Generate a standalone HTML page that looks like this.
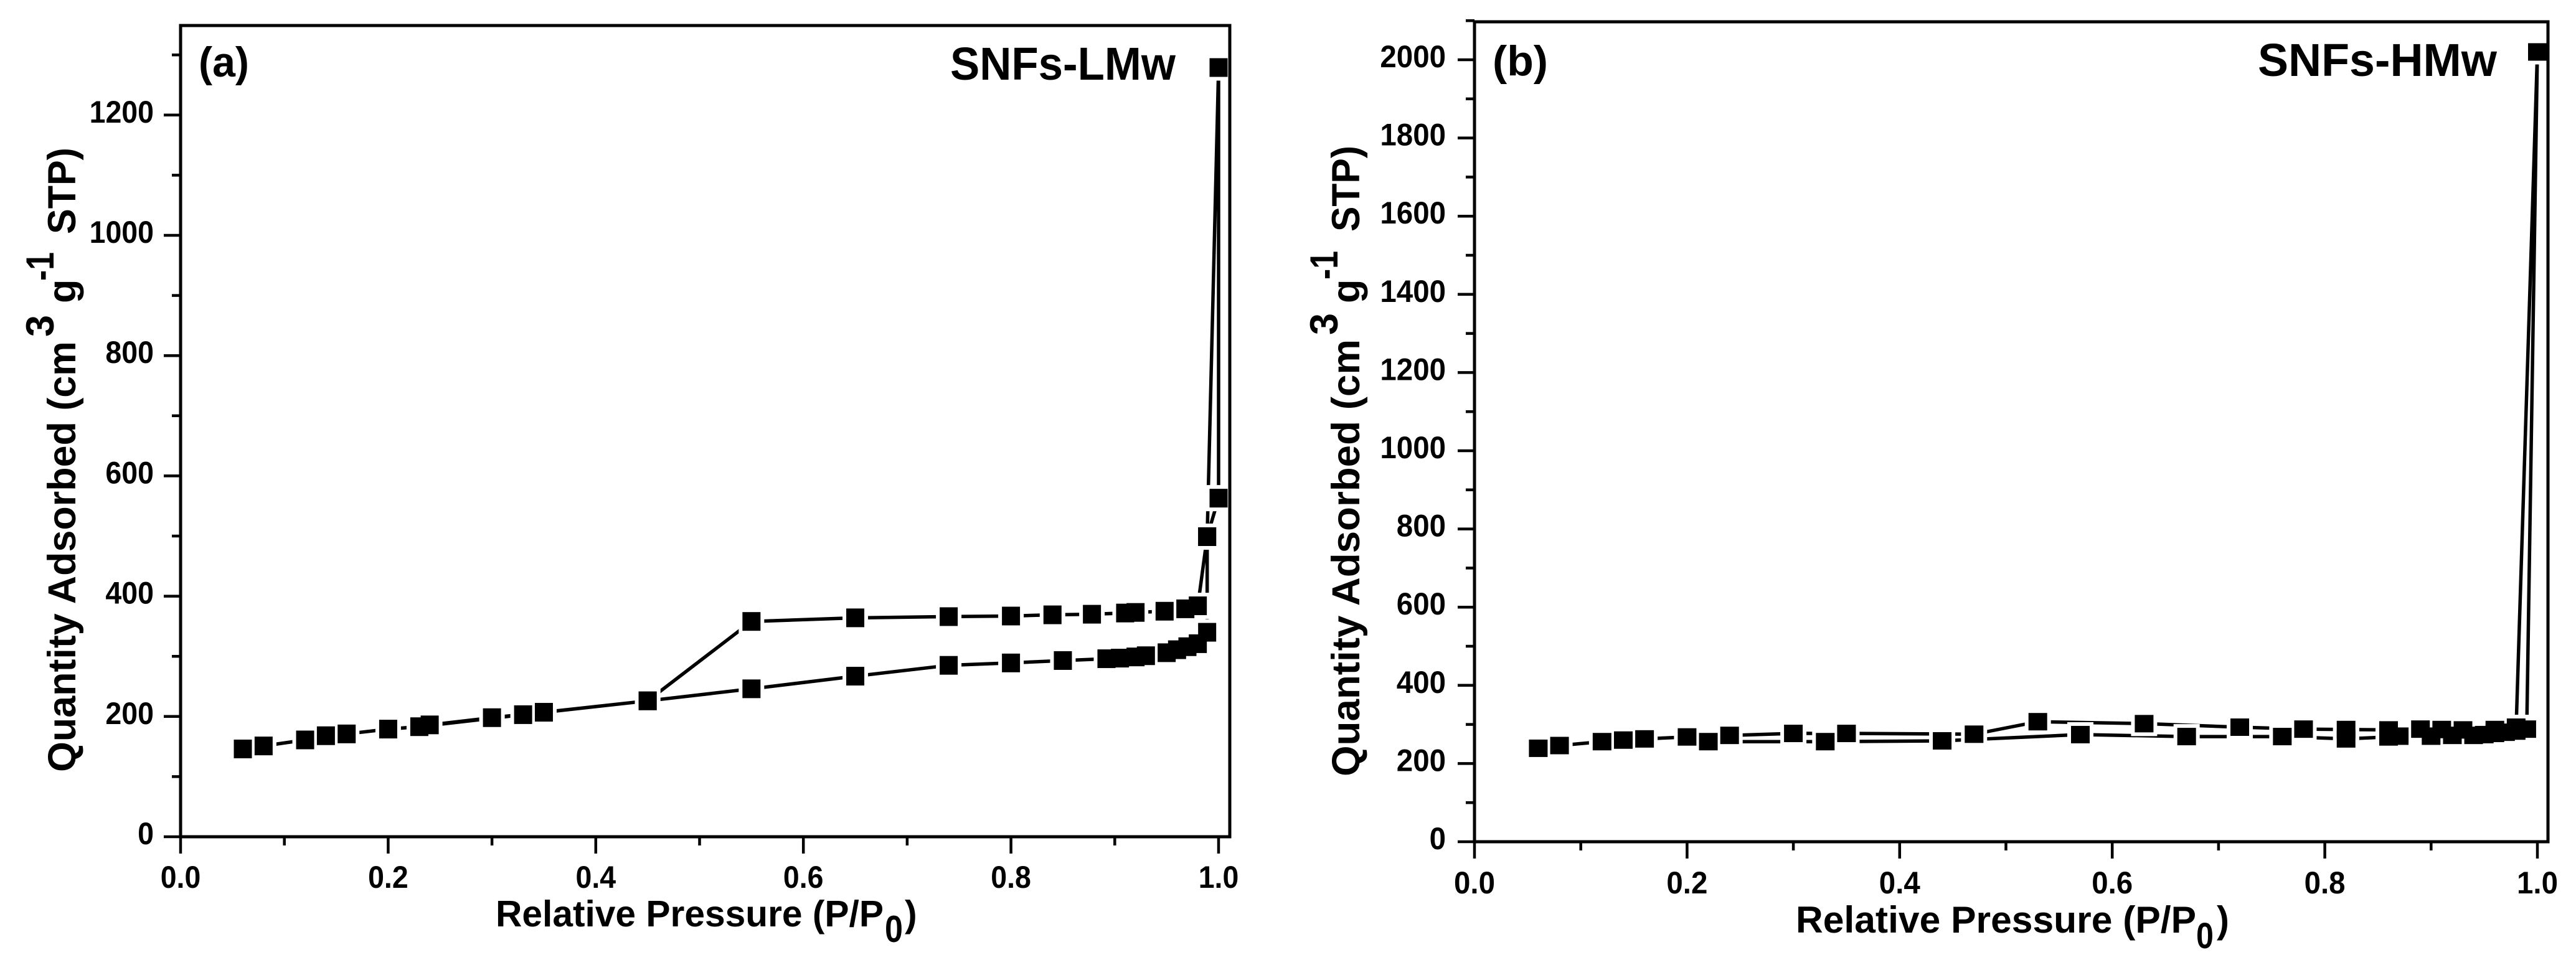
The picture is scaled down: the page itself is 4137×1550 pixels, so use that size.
<!DOCTYPE html>
<html lang="en">
<head>
<meta charset="utf-8">
<title>Nitrogen sorption isotherms of SNFs-LMw and SNFs-HMw</title>
<style>
html,body{margin:0;padding:0;background:#fff;}
body{width:4137px;height:1550px;overflow:hidden;}
svg{display:block;}
text{font-family:"Liberation Sans",Arial,sans-serif;font-weight:bold;fill:#000;}
</style>
</head>
<body>
<svg id="figure" xmlns="http://www.w3.org/2000/svg" width="4137" height="1550" viewBox="0 0 4137 1550">
  <rect x="0" y="0" width="4137" height="1550" fill="#fff"/>
  <g id="panel-a">
    <g id="a-plot"></g>
    <text x="319" y="123" font-size="68" textLength="81" lengthAdjust="spacingAndGlyphs">(a)</text>
    <text x="1526" y="128" font-size="74" textLength="362" lengthAdjust="spacingAndGlyphs">SNFs-LMw</text>
    <text x="796" y="1488" font-size="59" textLength="623" lengthAdjust="spacingAndGlyphs">Relative Pressure (P/P</text>
    <text x="1421" y="1513" font-size="60" textLength="29" lengthAdjust="spacingAndGlyphs">0</text>
    <text x="1453" y="1488" font-size="59">)</text>
    <g>
      <text transform="translate(121,1240) rotate(-90)" font-size="63" textLength="692" lengthAdjust="spacingAndGlyphs">Quantity Adsorbed (cm</text>
      <text transform="translate(86,541) rotate(-90)" font-size="63">3</text>
      <text transform="translate(121,487) rotate(-90)" font-size="63">g</text>
      <text transform="translate(86,451) rotate(-90)" font-size="63" textLength="46" lengthAdjust="spacingAndGlyphs">-1</text>
      <text transform="translate(121,376) rotate(-90)" font-size="63" textLength="139" lengthAdjust="spacingAndGlyphs">STP)</text>
    </g>
  </g>
  <g id="panel-b">
    <g id="b-plot"></g>
    <text x="2397" y="121" font-size="68" textLength="89" lengthAdjust="spacingAndGlyphs">(b)</text>
    <text x="3626" y="122" font-size="74" textLength="384" lengthAdjust="spacingAndGlyphs">SNFs-HMw</text>
    <text x="2884" y="1498" font-size="60" textLength="643" lengthAdjust="spacingAndGlyphs">Relative Pressure (P/P</text>
    <text x="3527" y="1523" font-size="58" textLength="28" lengthAdjust="spacingAndGlyphs">0</text>
    <text x="3560" y="1498" font-size="60">)</text>
    <g>
      <text transform="translate(2183,1247) rotate(-90)" font-size="63" textLength="702" lengthAdjust="spacingAndGlyphs">Quantity Adsorbed (cm</text>
      <text transform="translate(2148,538) rotate(-90)" font-size="63">3</text>
      <text transform="translate(2183,487) rotate(-90)" font-size="63">g</text>
      <text transform="translate(2148,449) rotate(-90)" font-size="63" textLength="46" lengthAdjust="spacingAndGlyphs">-1</text>
      <text transform="translate(2183,372) rotate(-90)" font-size="63" textLength="138" lengthAdjust="spacingAndGlyphs">STP)</text>
    </g>
  </g>
</svg>
<script>
// Panel (a) SNFs-LMw: values
var aAdsorptionP = [0.06,0.08,0.12,0.14,0.16,0.20,0.23,0.33,0.45,0.55,0.65,0.74,0.80,0.85,0.892,0.905,0.92,0.93,0.95,0.96,0.97,0.98,0.989,0.989,1.0,1.0];
var aAdsorptionQ = [146,151,161,168,171,179,183,203,226,246,267,285,289,293,296,297,299,301,306,311,316,321,340,499,563,1279];
var aDesorptionP = [1.0,0.989,0.98,0.968,0.948,0.92,0.91,0.878,0.84,0.80,0.74,0.65,0.55,0.45,0.35,0.30,0.24];
var aDesorptionQ = [1279,499,384,379,375,373,372,370,369,367,366,364,358,226,207,198,186];

// Panel (b) SNFs-HMw: values
var bAdsorptionP = [0.06,0.08,0.12,0.14,0.16,0.20,0.22,0.33,0.44,0.57,0.67,0.76,0.82,0.86,0.87,0.90,0.92,0.94,0.95,0.96,0.97,0.98,0.99,1.0];
var bAdsorptionQ = [239,246,256,260,263,268,256,256,258,274,269,269,263,268,270,270,272,272,274,277,280,283,288,2020];
var bDesorptionP = [1.0,0.98,0.96,0.93,0.91,0.89,0.86,0.82,0.78,0.72,0.63,0.53,0.47,0.35,0.30,0.24];
var bDesorptionQ = [2020,293,287,286,287,288,286,287,288,293,302,307,275,277,277,272];

// Tick values and labels
var xMajorTicks = [0,0.2,0.4,0.6,0.8,1.0];
var xMajorLabels = ["0.0","0.2","0.4","0.6","0.8","1.0"];
var xMinorTicks = [0.1,0.3,0.5,0.7,0.9];
var aYMajorTicks = [0,200,400,600,800,1000,1200];
var aYMinorTicks = [100,300,500,700,900,1100,1300];
var bYMajorTicks = [0,200,400,600,800,1000,1200,1400,1600,1800,2000];
var bYMinorTicks = [100,300,500,700,900,1100,1300,1500,1700,1900,2100];

var NS = "http://www.w3.org/2000/svg";

function make(parent, tag, props) {
  var el = document.createElementNS(NS, tag);
  for (var k in props) { el.setAttribute(k, props[k]); }
  parent.appendChild(el);
  return el;
}

// natural width of a bold numeric label, narrowed to the figure's condensed look
function labelWidth(str, font, squeeze) {
  var w = 0;
  for (var i = 0; i < str.length; i++) { w += (str[i] === "." ? 0.278 : 0.556); }
  return w * font * squeeze;
}

function drawPanel(root, prefix, frame, xMajor, xLabels, xMinor, yMajor, yMinor, adsP, adsQ, desP, desQ) {
  function sx(v) { return frame.x0 + v * (frame.x1 - frame.x0); }
  function sy(v) { return frame.y0 - v * frame.yPerUnit; }

  // connecting line (adsorption then desorption)
  var pts = [];
  adsP.forEach(function (p, i) { pts.push(sx(p).toFixed(1) + "," + sy(adsQ[i]).toFixed(1)); });
  desP.forEach(function (p, i) { pts.push(sx(p).toFixed(1) + "," + sy(desQ[i]).toFixed(1)); });
  var line = make(root, "polyline", { points: pts.join(" "), fill: "none", stroke: "#000", "stroke-width": 5.5, "stroke-linejoin": "round" });
  
  

  var allP = adsP.concat(desP);
  var allQ = adsQ.concat(desQ);

  // white gap around each marker
  var halos = make(root, "g", {});
  
  
  allP.forEach(function (p, i) {
    var gap = 6;
    make(halos, "rect", {
      x: sx(p) - frame.mw / 2 - gap, y: sy(allQ[i]) - frame.mh / 2 - gap,
      width: frame.mw + 2 * gap, height: frame.mh + 2 * gap, fill: "#fff"
    });
  });

  // square markers
  var markers = make(root, "g", {});
  
  
  allP.forEach(function (p, i) {
    var m = make(markers, "rect", {
      x: sx(p) - frame.mw / 2, y: sy(allQ[i]) - frame.mh / 2,
      width: frame.mw, height: frame.mh, fill: "#000"
    });
    
    
  });

  // frame
  var box = make(root, "rect", {
    x: frame.x0, y: frame.top, width: frame.right - frame.x0, height: frame.y0 - frame.top,
    fill: "none", stroke: "#000", "stroke-width": 5
  });
  
  

  // x ticks and labels
  xMajor.forEach(function (v, i) {
    var t = make(root, "line", { x1: sx(v), x2: sx(v), y1: frame.y0, y2: frame.y0 + 27, stroke: "#000", "stroke-width": 4.5 });
    
    
    var lab = make(root, "text", {
      x: sx(v), y: frame.xLabelY, "text-anchor": "middle", "font-size": frame.tickFont,
      textLength: labelWidth(xLabels[i], frame.tickFont, frame.squeeze).toFixed(1), lengthAdjust: "spacingAndGlyphs"
    });
    lab.textContent = xLabels[i];
    
    
  });
  xMinor.forEach(function (v) {
    var t = make(root, "line", { x1: sx(v), x2: sx(v), y1: frame.y0, y2: frame.y0 + 14, stroke: "#000", "stroke-width": 4.5 });
    
    
  });

  // y ticks and labels
  yMajor.forEach(function (v) {
    var t = make(root, "line", { x1: frame.x0 - 27, x2: frame.x0, y1: sy(v), y2: sy(v), stroke: "#000", "stroke-width": 4.5 });
    
    
    var lab = make(root, "text", {
      x: frame.yLabelX, y: sy(v) + 12, "text-anchor": "end", "font-size": frame.tickFont,
      textLength: labelWidth(String(v), frame.tickFont, frame.squeeze).toFixed(1), lengthAdjust: "spacingAndGlyphs"
    });
    lab.textContent = String(v);
    
    
  });
  yMinor.forEach(function (v) {
    var t = make(root, "line", { x1: frame.x0 - 14, x2: frame.x0, y1: sy(v), y2: sy(v), stroke: "#000", "stroke-width": 4.5 });
    
    
  });
}

drawPanel(document.getElementById("a-plot"), "panel-a",
  { x0: 290, x1: 1957, right: 1975, y0: 1344, top: 41, yPerUnit: 0.966, mw: 29, mh: 30, tickFont: 50, squeeze: 0.93, xLabelY: 1426, yLabelX: 247 },
  xMajorTicks, xMajorLabels, xMinorTicks, aYMajorTicks, aYMinorTicks,
  aAdsorptionP, aAdsorptionQ, aDesorptionP, aDesorptionQ);

drawPanel(document.getElementById("b-plot"), "panel-b",
  { x0: 2368, x1: 4075, right: 4092, y0: 1352, top: 35, yPerUnit: 0.628, mw: 30, mh: 28, tickFont: 50, squeeze: 0.95, xLabelY: 1435, yLabelX: 2322 },
  xMajorTicks, xMajorLabels, xMinorTicks, bYMajorTicks, bYMinorTicks,
  bAdsorptionP, bAdsorptionQ, bDesorptionP, bDesorptionQ);
</script>
</body>
</html>
